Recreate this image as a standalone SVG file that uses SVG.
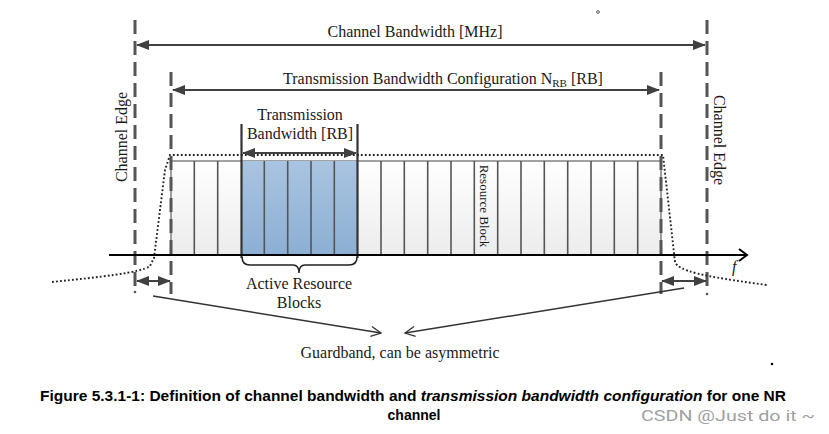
<svg xmlns="http://www.w3.org/2000/svg" width="829" height="434" viewBox="0 0 829 434">
<style>
.serif{font-family:"Liberation Serif","Times New Roman",serif;fill:#1a1a1a}
.dash{stroke:#555;stroke-width:3;stroke-dasharray:14 7;fill:none}
.dim{stroke:#404040;stroke-width:2;fill:none}
.col{stroke:#555;stroke-width:1.6}
.dot{stroke:#222;stroke-width:1.9;stroke-dasharray:1.8 2.2;fill:none}
</style>
<defs>
<linearGradient id="gw" x1="0" y1="0" x2="0" y2="1"><stop offset="0" stop-color="#ffffff"/><stop offset="1" stop-color="#ececec"/></linearGradient>
<linearGradient id="gb" x1="0" y1="0" x2="0" y2="1"><stop offset="0" stop-color="#a9c4e0"/><stop offset="1" stop-color="#8cafd4"/></linearGradient>
<marker id="ah" viewBox="0 0 13 10" refX="12" refY="5" markerWidth="13" markerHeight="10" markerUnits="userSpaceOnUse" orient="auto-start-reverse"><path d="M0,0 L13,5 L0,10 z" fill="#404040"/></marker>
<marker id="oh" viewBox="0 0 12 12" refX="11" refY="6" markerWidth="12" markerHeight="12" markerUnits="userSpaceOnUse" orient="auto"><path d="M1,1 L11,6 L1,11" fill="none" stroke="#333" stroke-width="1.3"/></marker>
</defs>
<rect width="829" height="434" fill="#fff"/>

<g id="resource-grid">
<rect x="171" y="161" width="490" height="94" fill="url(#gw)" stroke="#444" stroke-width="1"/>
<rect x="241" y="161" width="116.7" height="94" fill="url(#gb)"/>
<g class="col">
<line x1="194.3" y1="161" x2="194.3" y2="255"/><line x1="217.7" y1="161" x2="217.7" y2="255"/>
<line x1="264.3" y1="161" x2="264.3" y2="255"/><line x1="287.7" y1="161" x2="287.7" y2="255"/>
<line x1="311" y1="161" x2="311" y2="255"/><line x1="334.3" y1="161" x2="334.3" y2="255"/>
<line x1="381" y1="161" x2="381" y2="255"/><line x1="404.3" y1="161" x2="404.3" y2="255"/>
<line x1="427.7" y1="161" x2="427.7" y2="255"/><line x1="451" y1="161" x2="451" y2="255"/>
<line x1="474.3" y1="161" x2="474.3" y2="255"/><line x1="497.7" y1="161" x2="497.7" y2="255"/>
<line x1="521" y1="161" x2="521" y2="255"/><line x1="544.3" y1="161" x2="544.3" y2="255"/>
<line x1="567.7" y1="161" x2="567.7" y2="255"/><line x1="591" y1="161" x2="591" y2="255"/>
<line x1="614.3" y1="161" x2="614.3" y2="255"/><line x1="637.7" y1="161" x2="637.7" y2="255"/>
</g>
<line x1="241.5" y1="124" x2="241.5" y2="258" stroke="#333" stroke-width="2.2"/>
<line x1="357.5" y1="124" x2="357.5" y2="258" stroke="#333" stroke-width="2.2"/>
<text class="serif" font-size="13" transform="translate(480,206) rotate(90)" text-anchor="middle">Resource Block</text>
</g>

<g id="channel-edges">
<line class="dash" x1="135" y1="20" x2="135" y2="288"/>
<line class="dash" x1="707" y1="20" x2="707" y2="288"/>
<circle cx="135" cy="292" r="1.3" fill="#555"/>
<circle cx="707" cy="294" r="1.3" fill="#555"/>
<line class="dash" x1="171" y1="72" x2="171" y2="294"/>
<line class="dash" x1="661" y1="72" x2="661" y2="294"/>
<text class="serif" font-size="16" transform="translate(127,137) rotate(-90)" text-anchor="middle">Channel Edge</text>
<text class="serif" font-size="16" transform="translate(714,140) rotate(90)" text-anchor="middle">Channel Edge</text>
</g>

<g id="spectrum">
<path class="dot" d="M52,282 C100,277 140,273 150,266 L154,258 L165,170 L170,155 L663,155 L675,262 C679,271 700,276 767,285"/>
</g>

<g id="axis">
<line x1="109" y1="255" x2="747" y2="255" stroke="#000" stroke-width="2"/>
<polyline points="739,249 747,255 739,261" fill="none" stroke="#000" stroke-width="2"/>
<text class="serif" font-size="16" font-style="italic" x="732" y="272">f</text>
</g>

<g id="connectors">
<line class="dim" x1="137" y1="45" x2="705" y2="45" marker-start="url(#ah)" marker-end="url(#ah)"/>
<line class="dim" x1="173" y1="90" x2="659" y2="90" marker-start="url(#ah)" marker-end="url(#ah)"/>
<line class="dim" x1="243" y1="153" x2="356" y2="153" marker-start="url(#ah)" marker-end="url(#ah)"/>
<line class="dim" x1="137" y1="281" x2="170" y2="281" marker-start="url(#ah)" marker-end="url(#ah)"/>
<line class="dim" x1="662" y1="281" x2="706" y2="281" marker-start="url(#ah)" marker-end="url(#ah)"/>
<line x1="153" y1="296" x2="381" y2="333" stroke="#333" stroke-width="1.5" marker-end="url(#oh)"/>
<line x1="684" y1="288" x2="405" y2="333" stroke="#333" stroke-width="1.5" marker-end="url(#oh)"/>
</g>

<g id="brace">
<path d="M242,257 Q242,265 250,265 L293,265 Q299,265 299,273 Q299,265 305,265 L349,265 Q357,265 357,257" fill="none" stroke="#222" stroke-width="1.5"/>
</g>

<g id="labels">
<text class="serif" font-size="16" x="415" y="37" text-anchor="middle">Channel Bandwidth [MHz]</text>
<text class="serif" font-size="16" x="443" y="84" text-anchor="middle">Transmission Bandwidth Configuration N<tspan font-size="11" dy="3">RB</tspan><tspan dy="-3"> [RB]</tspan></text>
<text class="serif" font-size="16" x="300" y="120" text-anchor="middle">Transmission</text>
<text class="serif" font-size="16" x="300" y="139" text-anchor="middle">Bandwidth [RB]</text>
<text class="serif" font-size="16" x="299" y="289" text-anchor="middle">Active Resource</text>
<text class="serif" font-size="16" x="299" y="308" text-anchor="middle">Blocks</text>
<text class="serif" font-size="16" x="400" y="358" text-anchor="middle">Guardband, can be asymmetric</text>
</g>

<g id="caption">
<text x="413" y="401" text-anchor="middle" font-family="'Liberation Sans',Arial,sans-serif" font-weight="bold" font-size="14" fill="#000" textLength="746" lengthAdjust="spacingAndGlyphs">Figure 5.3.1-1: Definition of channel bandwidth and <tspan font-style="italic">transmission bandwidth configuration</tspan> for one NR</text>
<text x="414" y="420" text-anchor="middle" font-family="'Liberation Sans',Arial,sans-serif" font-weight="bold" font-size="14" fill="#000">channel</text>
<text x="641" y="421" font-family="Roboto,'Liberation Sans',sans-serif" font-size="15" fill="#a0a0a0" textLength="174" lengthAdjust="spacingAndGlyphs">CSDN @Just do it ~</text>
</g>
<circle cx="598" cy="12" r="1.4" fill="none" stroke="#333" stroke-width="0.8"/>
<circle cx="772" cy="364" r="1.3" fill="#000"/>
</svg>
